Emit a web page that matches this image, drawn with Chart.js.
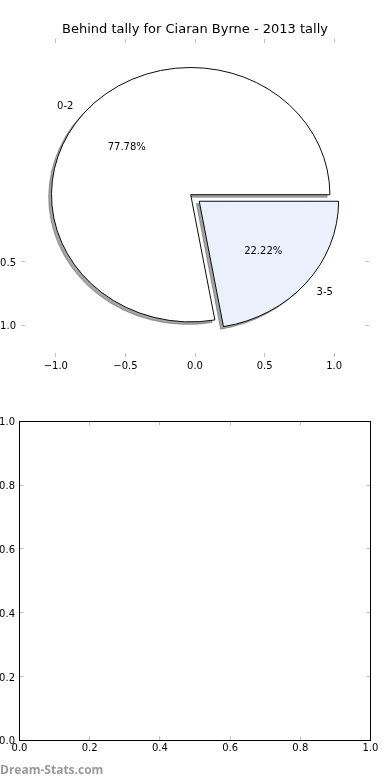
<!DOCTYPE html>
<html>
<head>
<meta charset="utf-8">
<script src="https://cdn.jsdelivr.net/npm/chart.js@4.4.0/dist/chart.umd.min.js"></script>
<style>
body{margin:0;background:#fff;width:390px;height:780px;position:relative;overflow:hidden}
canvas{position:absolute;left:0}
#mark{position:absolute;left:0;top:761px;font:bold 12px "Open Sans";color:#999}
</style>
</head>
<body>
<canvas id="axTop" width="390" height="390" style="top:0"></canvas>
<canvas id="shadow" width="390" height="390" style="top:0"></canvas>
<canvas id="pie" width="390" height="390" style="top:0"></canvas>
<canvas id="axBottom" width="390" height="380" style="top:400px"></canvas>
<div id="mark">Dream-Stats.com</div>
<script>
// data
const pieLabels = ['0-2', '3-5'];
const pieValues = [7, 2];
const pieColors = ['#ffffff', '#eaf0fc'];
const titleText = 'Behind tally for Ciaran Byrne - 2013 tally';
const topXTicks = [-1, -0.5, 0, 0.5, 1];
const topYTicks = [-1, -0.5];
const bottomTicks = [0, 0.2, 0.4, 0.6, 0.8, 1];

// top axes is 348 x 318 px for -1.25..1.25 both ways
const R = 348 / 2.5;
const YR = (318 / 2.5) / R;
const EXPL = 0.08 * R * 4;   // chart.js arc offset is divided by 4
const tickGray = '#c0c0c0';
const font = {family: 'DejaVu Sans', size: 10};
const fmt = v => (v < 0 ? '\u2212' : '') + Math.abs(v).toFixed(1);

// squash the circle to the axes aspect and flip so slices run counter-clockwise
const squash = {
  id: 'squash',
  beforeDatasetsDraw(chart) {
    const a = chart.getDatasetMeta(0).data[0], ctx = chart.ctx;
    ctx.save();
    ctx.translate(a.x, a.y);
    ctx.scale(1, -YR);
    ctx.translate(-a.x, -a.y);
  },
  afterDatasetsDraw(chart) { chart.ctx.restore(); }
};

const pieText = {
  id: 'pieText',
  afterDraw(chart) {
    const ctx = chart.ctx, meta = chart.getDatasetMeta(0);
    const total = pieValues.reduce((s, v) => s + v, 0);
    ctx.save();
    ctx.font = '10px "DejaVu Sans"';
    ctx.fillStyle = '#000';
    ctx.textBaseline = 'middle';
    meta.data.forEach((arc, i) => {
      const mid = (arc.startAngle + arc.endAngle) / 2;
      const off = (arc.options.offset || 0) / 4;
      const at = f => [arc.x + Math.cos(mid) * (off + f * arc.outerRadius),
                       arc.y - YR * Math.sin(mid) * (off + f * arc.outerRadius) + 1.5];
      let [x, y] = at(1.1);
      ctx.textAlign = x > arc.x ? 'left' : 'right';
      ctx.fillText(pieLabels[i], x, y);
      [x, y] = at(0.6);
      ctx.textAlign = 'center';
      ctx.fillText((pieValues[i] / total * 100).toFixed(2) + '%', x, y);
    });
    ctx.restore();
  }
};

function pieChart(id, colors, border, pad, extra) {
  return new Chart(document.getElementById(id), {
    type: 'pie',
    data: {labels: pieLabels, datasets: [{
      data: pieValues, backgroundColor: colors, borderColor: border,
      borderWidth: 1, borderJoinStyle: 'miter', offset: [0, EXPL]
    }]},
    options: {
      responsive: false, animation: false, events: [],
      rotation: 90, radius: R,
      layout: {padding: pad},
      plugins: {legend: {display: false}, tooltip: {enabled: false}}
    },
    plugins: [squash].concat(extra)
  });
}

function axis(pos, min, max, values, size, labels, pad, border) {
  const horiz = pos == 'top' || pos == 'bottom';
  return {
    type: 'linear', position: pos, min: min, max: max,
    afterBuildTicks: s => { s.ticks = values.map(v => ({value: v})); },
    afterFit: s => { if (horiz) s.height = size; else s.width = size; },
    grid: {drawOnChartArea: false, tickLength: -4, color: tickGray, tickWidth: 1},
    border: {display: border, color: '#000', width: 1},
    ticks: {display: labels, padding: pad, color: '#000', font: font,
            labelOffset: horiz ? 0 : 1.5,
            callback: fmt, maxRotation: 0, autoSkip: false}
  };
}

// top axes (ticks only, frame off)
new Chart(document.getElementById('axTop'), {
  type: 'scatter',
  data: {datasets: []},
  options: {
    responsive: false, animation: false, events: [],
    layout: {padding: 0},
    plugins: {
      legend: {display: false}, tooltip: {enabled: false},
      title: {display: true, text: titleText, color: '#000',
              font: {family: 'DejaVu Sans', size: 13, weight: 'normal'},
              padding: {top: 21.5, bottom: 1.9}}
    },
    scales: {
      x: axis('bottom', -1.25, 1.25, topXTicks, 33, true, 7, false),
      x2: axis('top', -1.25, 1.25, topXTicks, 0, false, 0, false),
      y: axis('left', -1.25, 1.25, topYTicks, 21, true, 9, false),
      y2: axis('right', -1.25, 1.25, topYTicks, 21, false, 0, false)
    }
  }
});

// shadow and pie
const shade = 'rgba(77,77,77,0.5)';
pieChart('shadow', [shade, shade], shade, {left: 0, right: 14.2, top: 4.4, bottom: 0}, []);
pieChart('pie', pieColors, '#000', {left: 0, right: 8.6, top: 0, bottom: 0.6}, [pieText]);

// bottom empty axes
new Chart(document.getElementById('axBottom'), {
  type: 'scatter',
  data: {datasets: []},
  options: {
    responsive: false, animation: false, events: [],
    layout: {padding: {top: 21.3, right: 19.5, bottom: 0, left: 0}},
    plugins: {legend: {display: false}, tooltip: {enabled: false}},
    scales: {
      x: axis('bottom', 0, 1, bottomTicks, 39.7, true, 6, true),
      x2: axis('top', 0, 1, bottomTicks, 0, false, 0, true),
      y: axis('left', 0, 1, bottomTicks, 19.5, true, 8.5, true),
      y2: axis('right', 0, 1, bottomTicks, 0, false, 0, true)
    }
  }
});
</script>
</body>
</html>
